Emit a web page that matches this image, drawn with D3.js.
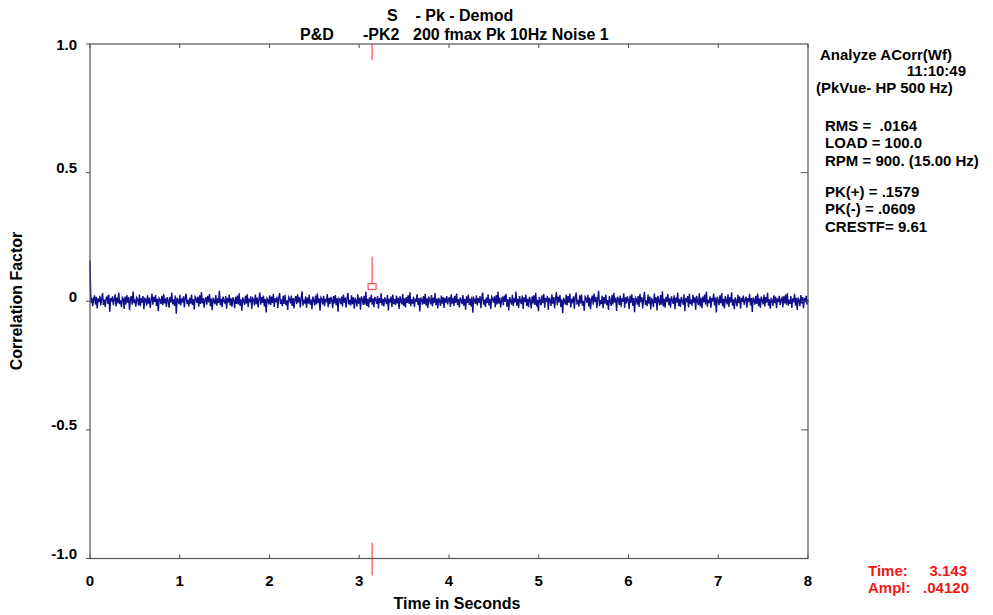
<!DOCTYPE html>
<html>
<head>
<meta charset="utf-8">
<script src="https://cdn.jsdelivr.net/npm/d3@7"></script>
<style>
  body { margin: 0; background: #fff; }
  text { font-family: "Liberation Sans", Arial, sans-serif; font-weight: bold; }
</style>
</head>
<body>
<div id="chart"></div>
<script>
const width = 993
const height = 615
const margin = { top: 44, bottom: 56, left: 90, right: 185 }

// chart data
const titleLine1 = "S    - Pk - Demod"
const yTicks = [1.0, 0.5, 0, -0.5, -1.0]
const yTickLabels = ["1.0", "0.5", "0", "-0.5", "-1.0"]
const xTicks = [0, 1, 2, 3, 4, 5, 6, 7, 8]
const tEnd = 8
const cursorTime = 3.143
const cursorAmpl = 0.0412
const infoLines = [
  "Analyze ACorr(Wf)", "11:10:49", "(PkVue- HP 500 Hz)",
  "RMS =  .0164", "LOAD = 100.0", "RPM = 900. (15.00 Hz)",
  "PK(+) = .1579", "PK(-) = .0609", "CRESTF= 9.61"
]
// correlation factor samples, evenly spaced over 0..8 s
const corr = [
.158,-.006,.014,-.019,.008,.023,-.012,.017,-.028,.011,
-.003,.021,-.016,.009,.032,-.014,.006,-.022,.013,.018,
-.010,.025,-.041,.012,-.001,.019,-.015,.007,.027,-.020,
.014,-.008,.034,-.011,.004,-.023,.015,.010,-.030,.018,
-.012,.024,-.006,.016,-.035,.009,.020,-.013,.038,-.007,
.002,-.021,.014,.007,-.016,.026,-.019,.012,-.005,.020,
-.031,.011,.008,-.017,.023,-.009,.014,-.026,.005,.030,
-.013,.017,-.003,.024,-.018,.010,-.039,.012,.006,-.010,
.021,-.015,.028,-.008,.011,-.022,.016,.002,-.025,.017,
-.005,.033,-.012,.007,-.018,.022,-.048,.013,.004,-.011,
.025,-.016,.010,-.004,.019,-.024,.015,.029,-.011,.005,
-.020,.013,-.009,.026,-.014,.008,-.032,.018,.011,-.006,
.017,-.021,.023,-.010,.036,-.008,.012,-.025,.007,.016,
-.013,.021,-.004,.028,-.019,.010,-.035,.014,.003,-.011,
.024,-.017,.011,-.007,.041,-.015,.009,-.023,.018,.002,
-.009,.020,-.029,.013,-.005,.025,-.016,.011,-.021,.015,
.006,-.027,.017,-.010,.022,-.012,.031,-.018,.008,-.037,
.015,.002,-.014,.021,-.009,.027,-.023,.010,-.003,.019,
-.030,.012,.007,-.016,.026,-.011,.014,-.024,.008,.034,
-.013,.016,-.006,.022,-.020,.009,-.044,.011,.005,-.012,
.023,-.014,.018,-.007,.029,-.022,.011,-.003,.017,-.026,
.013,.032,-.010,.007,-.019,.021,-.010,.025,-.015,.004,
-.034,.016,.010,-.008,.022,-.018,.012,-.028,.009,.020,
-.011,.027,-.005,.015,-.024,.011,.039,-.017,.006,-.009,
.019,-.025,.014,-.009,.025,-.013,.007,-.031,.018,.003,
-.016,.022,-.012,.030,-.007,.011,-.037,.015,.009,-.012,
.021,-.019,.009,-.004,.028,-.023,.013,-.010,.017,.005,
-.027,.020,-.008,.024,-.015,.012,-.041,.012,.008,-.011,
.018,-.020,.026,-.006,.014,-.025,.010,.033,-.012,.005,
-.017,.023,-.011,.016,-.029,.013,.002,-.021,.027,-.009,
.013,-.033,.019,.007,-.014,.021,-.013,.037,-.018,.009,
-.024,.015,-.004,.025,-.013,.011,-.023,.017,.006,-.010,
.020,-.028,.012,-.007,.031,-.016,.009,-.020,.015,.004,
-.011,.024,-.036,.010,-.005,.018,-.022,.026,-.011,.008,
-.015,.022,-.008,.013,-.030,.019,.003,-.012,.028,-.018,
.011,-.024,.016,-.006,.023,-.010,.035,-.019,.007,-.009,
.017,-.023,.010,-.003,.027,-.014,.012,-.040,.015,.006,
-.013,.020,-.010,.029,-.017,.011,-.026,.018,.004,-.012,
.024,-.020,.014,-.007,.032,-.015,.010,-.028,.013,.002,
-.018,.022,-.009,.016,-.026,.013,-.005,.020,-.012,.007,
.016,-.022,.027,-.009,.013,-.018,.021,-.006,.030,-.014,
.008,-.024,.015,.004,-.011,.024,-.017,.009,-.033,.019,
-.007,.026,-.014,.010,-.020,.018,-.045,.012,.005,-.010,
.023,-.016,.012,-.005,.020,-.027,.014,.034,-.013,.006,
-.022,.014,-.007,.027,-.016,.009,-.031,.017,.010,-.005,
.019,-.023,.024,-.012,.037,-.009,.014,-.024,.005,.018,
-.015,.022,-.002,.029,-.021,.008,-.036,.016,.003,-.013,
.025,-.019,.011,-.005,.038,-.017,.009,-.026,.020,.001,
-.011,.022,-.030,.015,-.003,.026,-.018,.009,-.023,.017,
.004,-.028,.019,-.008,.023,-.014,.033,-.020,.006,-.039,
.017,.000,-.016,.023,-.007,.028,-.025,.012,-.001,.021,
-.033,.014,.005,-.018,.027,-.009,.016,-.027,.010,.036,
-.015,.018,-.004,.024,-.022,.007,-.046,.013,.003,-.013,
.026,-.016,.020,-.005,.030,-.024,.009,-.001,.019,-.029,
.015,.034,-.012,.005,-.021,.023,-.008,.026,-.017,.002,
-.037,.018,.012,-.006,.025,-.020,.014,-.031,.007,.022,
-.013,.030,-.003,.017,-.026,.009,.041,-.019,.004,-.011,
.021,-.027,.016,-.009,.026,-.015,.005,-.034,.020,.001,
-.018,.025,-.012,.033,-.005,.013,-.038,.017,.009,-.014,
.022,-.021,.011,-.002,.031,-.025,.015,-.008,.019,.005,
-.030,.022,-.006,.027,-.017,.012,-.043,.014,.008,-.013,
.020,-.022,.029,-.004,.016,-.028,.010,.037,-.014,.003,
-.019,.026,-.009,.018,-.032,.013,.000,-.023,.030,-.007,
.015,-.036,.021,.005,-.016,.024,-.013,.039,-.020,.009,
-.025,.017,-.002,.028,-.015,.011,-.025,.019,.004,-.010,
.023,-.031,.014,-.005,.034,-.018,.009,-.022,.017,.002,
-.013,.027,-.039,.012,-.003,.020,-.024,.029,-.011,.006,
-.017,.025,-.006,.015,-.033,.021,.001,-.014,.031,-.020,
.013,-.027,.018,-.004,.026,-.012,.038,-.021,.005,-.007,
.019,-.025,.012,-.001,.030,-.016,.014,-.044,.017,.004,
-.015,.023,-.008,.032,-.019,.009,-.028,.020,.002,-.012,
.027,-.022,.016,-.005,.035,-.017,.008,-.031,.015,.000,
-.020,.025,-.007,.018,-.029,.013,-.003,.022,-.014,.005,
.018,-.025,.012,-.003,.028,-.016,.012,-.042,.015,.006,
-.013,.021,-.010,.030,-.019,.011,-.026,.018,.004,-.012,
.025,-.020,.016,-.005,.033,-.017,.008,-.029,.013,.002,
-.018,.023,-.007,.018,-.027,.011,-.003,.021,-.014,.007,
.014,-.023,.019,-.008,.026,-.013,.031,-.017,.006,-.010,
.020,-.026,.011,-.004,.029,-.016,.013,-.034,.014,.003,
-.019,.024,-.008,.016,-.027,.012,-.004,.021,-.013,.006
]

const svg = d3.select("div#chart").append("svg").attr("width", width).attr("height", height)

const x = d3.scaleLinear().domain([0, tEnd]).range([margin.left, width - margin.right])
const y = d3.scaleLinear().domain([-1, 1]).range([height - margin.bottom - 0.5, margin.top])

const dt = tEnd / (corr.length - 1)
const data = corr.map((v, i) => ({ t: i * dt, v: v }))

// signal
const line = d3.line().x(d => x(d.t)).y(d => y(d.v))
svg.append("path").datum(data)
  .attr("d", line)
  .attr("fill", "none")
  .attr("stroke", "#10108a")
  .attr("stroke-width", 1.4)

// frame
const frameColor = "#555"
svg.append("rect")
  .attr("x", x(0)).attr("y", y(1))
  .attr("width", x(tEnd) - x(0)).attr("height", y(-1) - y(1))
  .attr("fill", "none").attr("stroke", frameColor).attr("stroke-width", 1.2)

// left ticks (outward) + labels
const yAxisGroup = svg.append("g")
yAxisGroup.selectAll(".ytick").data(yTicks).enter().append("line")
  .attr("x1", x(0) - 4).attr("x2", x(0))
  .attr("y1", d => y(d)).attr("y2", d => y(d))
  .attr("stroke", frameColor)
yAxisGroup.selectAll(".ylab").data(yTicks).enter().append("text")
  .attr("x", 77).attr("y", d => y(d) - 5 + (d === 1 ? 6 : 0))
  .attr("dy", "0.35em")
  .attr("text-anchor", "end")
  .attr("font-size", 15)
  .text((d, i) => yTickLabels[i])

// right ticks (inward)
svg.selectAll(".rtick").data(yTicks.filter(d => Math.abs(d) < 1)).enter().append("line")
  .attr("x1", x(tEnd) - 7).attr("x2", x(tEnd))
  .attr("y1", d => y(d)).attr("y2", d => y(d))
  .attr("stroke", frameColor)

// top and bottom ticks (inward)
svg.selectAll(".ttick").data(xTicks).enter().append("line")
  .attr("x1", d => x(d)).attr("x2", d => x(d))
  .attr("y1", y(1)).attr("y2", y(1) + 4)
  .attr("stroke", frameColor)
svg.selectAll(".btick").data(xTicks).enter().append("line")
  .attr("x1", d => x(d)).attr("x2", d => x(d))
  .attr("y1", y(-1)).attr("y2", y(-1) - 4)
  .attr("stroke", frameColor)
svg.selectAll(".xlab").data(xTicks).enter().append("text")
  .attr("x", d => x(d)).attr("y", 586)
  .attr("text-anchor", "middle")
  .attr("font-size", 15)
  .text(d => d)

// axis titles
svg.append("text").attr("x", 457).attr("y", 609).attr("text-anchor", "middle")
  .attr("font-size", 16).text("Time in Seconds")
svg.append("text").attr("transform", "translate(22,301) rotate(-90)").attr("text-anchor", "middle")
  .attr("font-size", 16).text("Correlation Factor")

// title
svg.append("text").attr("x", 387).attr("y", 21).attr("font-size", 16).attr("xml:space", "preserve").text(titleLine1)
svg.append("text").attr("x", 300).attr("y", 40).attr("font-size", 16).text("P&D")
svg.append("text").attr("x", 363).attr("y", 40).attr("font-size", 16).text("-PK2")
svg.append("text").attr("x", 413).attr("y", 40).attr("font-size", 16).text("200 fmax Pk 10Hz Noise 1")

// cursor
const cx = x(cursorTime)
const cy = y(cursorAmpl)
const cursor = svg.append("g").attr("stroke", "#f03030").attr("fill", "none")
cursor.append("line").attr("x1", cx).attr("x2", cx).attr("y1", y(1)).attr("y2", y(1) + 16)
cursor.append("line").attr("x1", cx).attr("x2", cx).attr("y1", y(-1) - 16).attr("y2", y(-1) + 17)
cursor.append("line").attr("x1", cx).attr("x2", cx).attr("y1", cy - 34).attr("y2", cy - 7)
cursor.append("rect").attr("x", cx - 4).attr("y", cy - 7).attr("width", 8).attr("height", 6)

// info panel
const infoPos = [[820, 60, "start"], [966, 76, "end"], [816, 93, "start"],
  [825, 131, "start"], [825, 148, "start"], [825, 166, "start"],
  [825, 197, "start"], [825, 214, "start"], [825, 232, "start"]]
svg.selectAll(".info").data(infoLines).enter().append("text")
  .attr("x", (d, i) => infoPos[i][0]).attr("y", (d, i) => infoPos[i][1])
  .attr("text-anchor", (d, i) => infoPos[i][2])
  .attr("font-size", 15)
  .attr("xml:space", "preserve")
  .text(d => d)

// cursor readout
const readout = svg.append("g").attr("fill", "#f01818").attr("font-size", 15)
readout.append("text").attr("x", 868).attr("y", 576).text("Time:")
readout.append("text").attr("x", 967).attr("y", 576).attr("text-anchor", "end").text(cursorTime.toFixed(3))
readout.append("text").attr("x", 868).attr("y", 593).text("Ampl:")
readout.append("text").attr("x", 969).attr("y", 593).attr("text-anchor", "end").text(".04120")
</script>
</body>
</html>
